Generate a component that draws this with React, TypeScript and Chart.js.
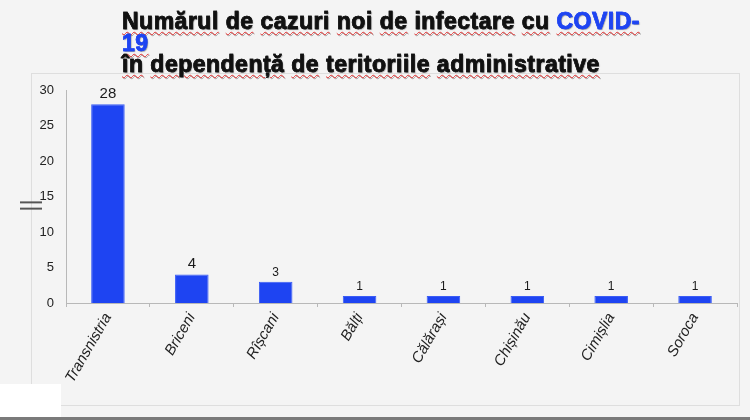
import React, { useEffect, useRef } from "react";
import { Chart, registerables } from "chart.js";

Chart.register(...registerables);

const categories = ["Transnistria", "Briceni", "Rîșcani", "Bălți", "Călărași", "Chișinău", "Cimișlia", "Soroca"];
const cases = [28, 4, 3, 1, 1, 1, 1, 1];
const yTicks = [0, 5, 10, 15, 20, 25, 30];
const labelFontSizes = [15, 15, 12, 12, 12, 12, 12, 12];
const yAxisTitle = "||";

const titleLine1 = ["Numărul", "de", "cazuri", "noi", "de", "infectare", "cu"];
const titleBlue1 = "COVID-";
const titleBlue2 = "19";
const titleLine3 = ["în", "dependență", "de", "teritoriile", "administrative"];

const BG = "#f4f4f4";
const FONT = '"Liberation Sans", Arial, sans-serif';

const valueLabels = {
  id: "valueLabels",
  afterDatasetsDraw(chart: any) {
    const ctx = chart.ctx;
    const meta = chart.getDatasetMeta(0);
    ctx.save();
    ctx.fillStyle = "#1a1a1a";
    ctx.textAlign = "center";
    ctx.textBaseline = "bottom";
    meta.data.forEach((bar: any, i: number) => {
      ctx.font = `${labelFontSizes[i]}px ${FONT}`;
      ctx.fillText(String(cases[i]), bar.x, bar.y - 3);
    });
    // y-axis title
    const area = chart.chartArea;
    ctx.translate(30, (area.top + area.bottom) / 2 + 9);
    ctx.rotate(-Math.PI / 2);
    ctx.font = `24px ${FONT}`;
    ctx.fillStyle = "#555";
    ctx.textAlign = "center";
    ctx.textBaseline = "middle";
    ctx.fillText(yAxisTitle, 0, 0);
    ctx.restore();
  },
};

const wavy: React.CSSProperties = {
  textDecorationLine: "underline",
  textDecorationStyle: "wavy",
  textDecorationColor: "#e03030",
  textDecorationThickness: "1px",
  textUnderlineOffset: "2px",
};

function Words({ words }: { words: string[] }) {
  return (
    <>
      {words.map((w, i) => (
        <React.Fragment key={i}>
          <span style={wavy}>{w}</span>{" "}
        </React.Fragment>
      ))}
    </>
  );
}

export default function App() {
  const ref = useRef<HTMLCanvasElement | null>(null);

  useEffect(() => {
    if (!ref.current) return;
    const chart = new Chart(ref.current, {
      type: "bar",
      data: {
        labels: categories,
        datasets: [
          {
            data: cases,
            backgroundColor: "#1e44f2",
            borderColor: "#3a5cf5",
            borderWidth: 1,
            barPercentage: 0.4,
            categoryPercentage: 1.0,
          },
        ],
      },
      options: {
        animation: false,
        responsive: false,
        maintainAspectRatio: false,
        layout: { padding: { top: 90, right: 13, left: 10, bottom: 0 } },
        plugins: {
          legend: { display: false },
          tooltip: { enabled: false },
          title: { display: false },
        },
        scales: {
          x: {
            offset: true,
            afterFit: (s: any) => {
              s.height = 117;
            },
            grid: {
              display: true,
              drawOnChartArea: false,
              drawTicks: true,
              tickLength: 4,
              color: "#b8b8b8",
              offset: true,
            },
            border: { display: true, color: "#b8b8b8", width: 1 },
            ticks: {
              minRotation: 60,
              maxRotation: 60,
              autoSkip: false,
              padding: 3,
              color: "#222",
              font: { size: 15, style: "italic", family: FONT },
            },
          },
          y: {
            min: 0,
            max: 30,
            afterFit: (s: any) => {
              s.width = 56;
            },
            afterBuildTicks: (s: any) => {
              s.ticks = yTicks.map((v) => ({ value: v }));
            },
            grid: { display: false, drawOnChartArea: false },
            border: { display: true, color: "#b8b8b8", width: 1 },
            ticks: {
              stepSize: 5,
              padding: 4,
              color: "#222",
              font: { size: 13, family: FONT },
            },
          },
        },
      },
      plugins: [valueLabels],
    });
    return () => chart.destroy();
  }, []);

  return (
    <div
      style={{
        position: "fixed",
        left: 0,
        top: 0,
        width: 750,
        height: 420,
        background: BG,
        overflow: "hidden",
      }}
    >
      <div
        style={{
          position: "absolute",
          left: 31,
          top: 73,
          width: 707,
          height: 331,
          border: "1px solid #dedede",
        }}
      />
      <div
        style={{
          position: "absolute",
          left: 0,
          top: 384,
          width: 61,
          height: 33,
          background: "#ffffff",
        }}
      />
      <div
        style={{
          position: "absolute",
          left: 0,
          top: 417,
          width: 750,
          height: 3,
          background: "#7a7a7a",
        }}
      />
      <canvas
        ref={ref}
        width={750}
        height={420}
        style={{ position: "absolute", left: 0, top: 0, width: 750, height: 420 }}
      />
      <div
        style={{
          position: "absolute",
          left: 122,
          top: 11,
          width: 625,
          fontFamily: FONT,
          fontWeight: "bold",
          fontSize: 23,
          lineHeight: "21.5px",
          letterSpacing: "0.5px",
          color: "#111",
          whiteSpace: "nowrap",
          WebkitTextStroke: "0.6px currentColor",
          textShadow: "1px 1px 1px rgba(0,0,0,0.35)",
        }}
      >
        <div>
          <Words words={titleLine1} />
          <span style={{ ...wavy, color: "#1e44f2" }}>{titleBlue1}</span>
        </div>
        <div>
          <span style={{ ...wavy, color: "#1e44f2" }}>{titleBlue2}</span>
        </div>
        <div>
          <Words words={titleLine3} />
        </div>
      </div>
    </div>
  );
}
